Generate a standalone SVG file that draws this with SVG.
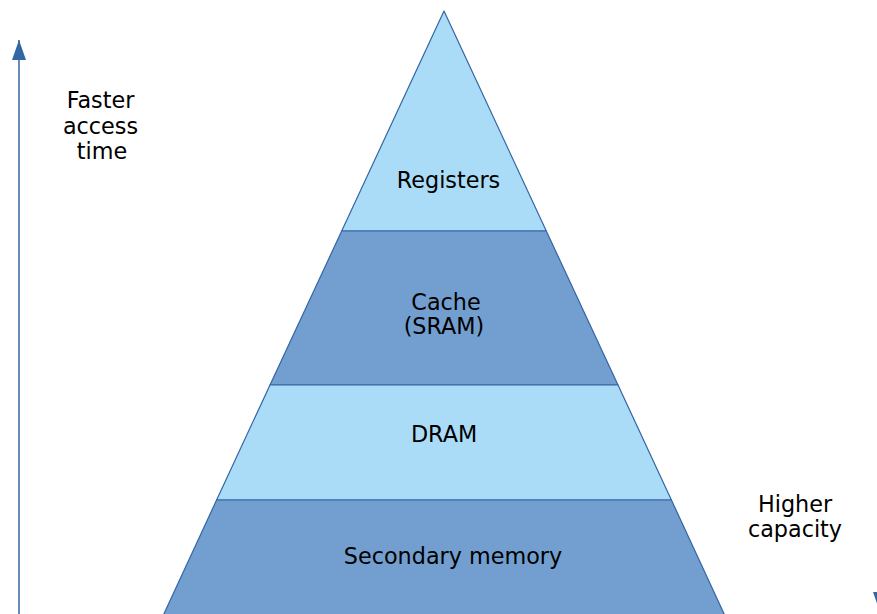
<svg xmlns="http://www.w3.org/2000/svg" width="877" height="614" viewBox="0 0 877 614">
  <style>
    .light { fill: #aadcf7; }
    .dark { fill: #729fcf; }
    .band { stroke: #3465a4; stroke-width: 1.2; stroke-linejoin: round; }
    .label { font-family: "DejaVu Sans", "Liberation Sans", sans-serif; font-size: 22.3px; fill: #000000; text-anchor: middle; }
    .axis { stroke: #3465a4; stroke-width: 1.5; fill: none; }
  </style>
  <defs>
    <marker id="head" viewBox="0 0 20 14" refX="20" refY="7" markerWidth="20" markerHeight="14" markerUnits="userSpaceOnUse" orient="auto">
      <path d="M20,7 L0,14 L0,0 Z" fill="#3465a4"/>
    </marker>
  </defs>
  <rect width="877" height="614" fill="#ffffff"/>

  <!-- memory hierarchy pyramid, top to bottom -->
  <g id="registers">
    <polygon class="light band" points="444,11 546.3,231 341.7,231"/>
    <text class="label" x="448.5" y="188">Registers</text>
  </g>
  <g id="cache">
    <polygon class="dark band" points="341.7,231 546.3,231 618,385 270,385"/>
    <text class="label" x="446" y="310">Cache</text>
    <text class="label" x="444" y="334">(SRAM)</text>
  </g>
  <g id="dram">
    <polygon class="light band" points="270,385 618,385 671.4,500 216.6,500"/>
    <text class="label" x="444" y="442">DRAM</text>
  </g>
  <g id="secondary">
    <polygon class="dark band" points="216.6,500 671.4,500 726,618 162,618"/>
    <text class="label" x="453" y="564">Secondary memory</text>
  </g>

  <!-- axis labels -->
  <g id="access-label">
    <text class="label" x="100.5" y="108">Faster</text>
    <text class="label" x="100.5" y="134">access</text>
    <text class="label" x="102" y="159"> time</text>
  </g>
  <g id="capacity-label">
    <text class="label" x="795" y="512">Higher</text>
    <text class="label" x="795" y="537">capacity</text>
  </g>

  <!-- axis arrows -->
  <g id="connectors">
    <path class="axis" d="M19,620 L19,40" marker-end="url(#head)"/>
    <path class="axis" d="M880,40 L880,612" marker-end="url(#head)"/>
  </g>
</svg>
